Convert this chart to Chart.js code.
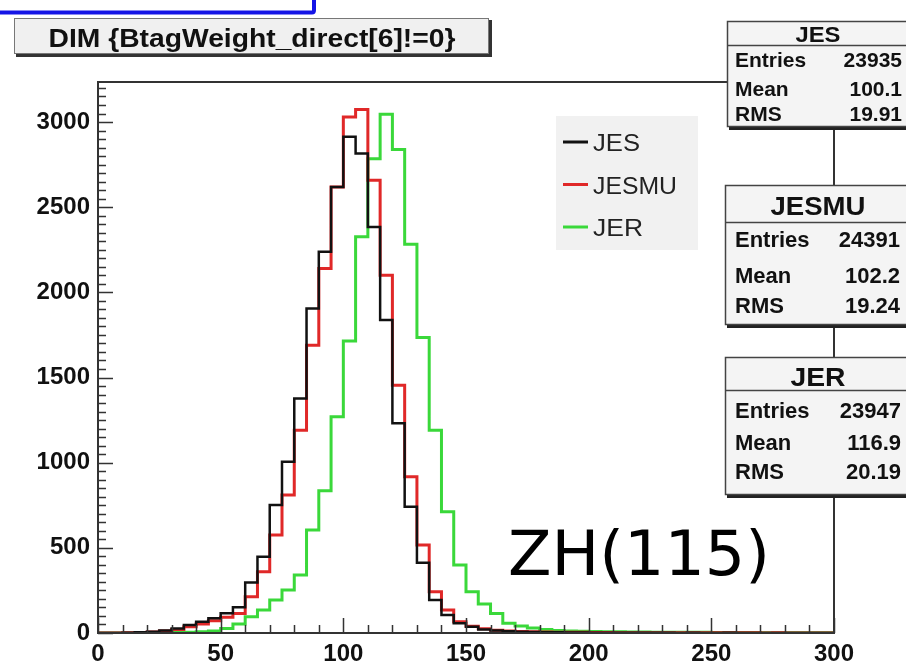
<!DOCTYPE html>
<html>
<head>
<meta charset="utf-8">
<script src="https://cdn.jsdelivr.net/npm/chart.js@4.4.1/dist/chart.umd.min.js"></script>
<style>
  html, body { margin: 0; padding: 0; background: #fff; }
  #c { display: block; }
</style>
</head>
<body>
<canvas id="c" width="906" height="661"></canvas>
<script>
// histogram bins (low edges), width 5
const binLow = [0, 5, 10, 15, 20, 25, 30, 35, 40, 45, 50, 55, 60, 65, 70, 75, 80, 85, 90, 95,
  100, 105, 110, 115, 120, 125, 130, 135, 140, 145, 150, 155, 160, 165, 170, 175, 180, 185, 190, 195,
  200, 205, 210, 215, 220, 225, 230, 235, 240, 245, 250, 255, 260, 265, 270, 275, 280, 285, 290, 295];
const xMax = 300;

const jes = [0, 0, 2, 4, 8, 15, 27, 47, 66, 86, 116, 151, 296, 448, 751, 1005, 1377, 1905, 2238, 2619,
  2913, 2815, 2384, 1837, 1231, 741, 413, 194, 106, 57, 37, 20, 14, 10, 8, 6, 5, 4, 3, 3,
  2, 2, 2, 1, 1, 1, 1, 0, 1, 0, 0, 1, 0, 0, 0, 0, 0, 0, 0, 0];
const jesmu = [0, 0, 1, 3, 6, 12, 20, 37, 53, 72, 92, 115, 213, 360, 575, 810, 1191, 1690, 2140, 2619,
  3030, 3073, 2658, 2101, 1455, 917, 516, 242, 135, 66, 40, 25, 16, 12, 9, 7, 6, 5, 4, 4,
  3, 3, 2, 2, 2, 2, 1, 1, 1, 1, 1, 1, 1, 1, 0, 1, 0, 0, 0, 0];
const jer = [0, 0, 0, 1, 1, 2, 3, 5, 8, 12, 27, 53, 96, 135, 194, 252, 340, 604, 835, 1269,
  1715, 2326, 2785, 3046, 2838, 2283, 1735, 1191, 712, 399, 242, 170, 115, 57, 41, 30, 20, 15, 12, 10,
  9, 8, 7, 6, 6, 5, 5, 4, 4, 4, 3, 3, 3, 3, 2, 2, 2, 2, 2, 2];

const seriesNames = ['JES', 'JESMU', 'JER'];
const statEntries = ['23935', '24391', '23947'];
const statMean = ['100.1', '102.2', '116.9'];
const statRms = ['19.91', '19.24', '20.19'];
const yMax = 3235;
const xTickVals = [0, 50, 100, 150, 200, 250, 300];
const yTickVals = [0, 500, 1000, 1500, 2000, 2500, 3000];
const xMinorStep = 10, yMinorStep = 50;
const titleText = 'DIM {BtagWeight_direct[6]!=0}';
const tagText = 'ZH(115)';

function toSteps(vals) {
  const pts = binLow.map((x, i) => ({ x: x, y: vals[i] }));
  pts.push({ x: xMax, y: vals[vals.length - 1] });
  return pts;
}

function fitText(ctx, str, x, y, font, width, align) {
  ctx.font = font;
  const w = ctx.measureText(str).width;
  ctx.save();
  ctx.translate(x, y);
  ctx.scale(width / w, 1);
  ctx.textAlign = align;
  ctx.textBaseline = 'alphabetic';
  ctx.fillText(str, 0, 0);
  ctx.restore();
}

const bold = s => 'bold ' + s + 'px "Liberation Sans", Arial, sans-serif';
const plain = s => s + 'px "Liberation Sans", Arial, sans-serif';

const rootDecor = {
  id: 'rootDecor',
  beforeDraw(chart) {
    const ctx = chart.ctx;
    ctx.save();
    ctx.fillStyle = '#fff';
    ctx.fillRect(0, 0, chart.width, chart.height);
    ctx.restore();
  },
  afterDatasetsDraw(chart) {
    const ctx = chart.ctx, a = chart.chartArea;
    const xs = chart.scales.x, ys = chart.scales.y;
    ctx.save();
    ctx.strokeStyle = '#333';
    ctx.lineWidth = 1.5;
    // tick marks inside the frame
    ctx.beginPath();
    for (let v = 0; v <= yMax; v += yMinorStep) {
      const py = Math.round(ys.getPixelForValue(v)) + 0.5;
      const len = yTickVals.includes(v) ? 15 : 8;
      ctx.moveTo(a.left, py);
      ctx.lineTo(a.left + len, py);
    }
    for (let v = 0; v <= xMax; v += xMinorStep) {
      const px = Math.round(xs.getPixelForValue(v)) + 0.5;
      const len = xTickVals.includes(v) ? 15 : 8;
      ctx.moveTo(px, a.bottom);
      ctx.lineTo(px, a.bottom - len);
    }
    ctx.stroke();
    ctx.lineWidth = 2;
    ctx.strokeRect(a.left, a.top, a.right - a.left, a.bottom - a.top);
    ctx.restore();
  },
  afterDraw(chart) {
    const ctx = chart.ctx;
    ctx.save();

    // blue selection box corner
    ctx.strokeStyle = '#1414e6';
    ctx.lineWidth = 4;
    ctx.beginPath();
    ctx.moveTo(0, 12.5);
    ctx.lineTo(312, 12.5);
    ctx.quadraticCurveTo(314, 12.5, 314, 10);
    ctx.lineTo(314, -2);
    ctx.stroke();

    // title pave
    ctx.fillStyle = '#333';
    ctx.fillRect(16, 20, 476, 37);
    ctx.fillStyle = '#f0f0f0';
    ctx.fillRect(14, 18, 475, 36);
    ctx.strokeStyle = '#777';
    ctx.lineWidth = 1;
    ctx.strokeRect(14.5, 18.5, 474, 35);
    ctx.fillStyle = '#111';
    fitText(ctx, titleText, 252, 46.5, bold(25), 407, 'center');

    // legend
    ctx.fillStyle = '#f1f1f1';
    ctx.fillRect(556, 116, 142, 134);
    const legColors = ['#111', '#e02828', '#3ad83a'];
    const legY = [142, 184.5, 227];
    const legW = [47, 84, 50];
    for (let i = 0; i < 3; i++) {
      ctx.strokeStyle = legColors[i];
      ctx.lineWidth = 3;
      ctx.beginPath();
      ctx.moveTo(563, legY[i]);
      ctx.lineTo(588, legY[i]);
      ctx.stroke();
      ctx.fillStyle = '#222';
      fitText(ctx, seriesNames[i], 593, legY[i] + 9, plain(24), legW[i], 'left');
    }

    // stats boxes
    const boxes = [
      { y: 21, bottom: 127, div: 45, tBase: 41.5, tFont: 22, tW: 45, rows: [66.5, 95.5, 121], rFont: 21, x: 727, vr: 902 },
      { y: 185, bottom: 325, div: 222, tBase: 215, tFont: 26, tW: 95, rows: [246.5, 283, 313], rFont: 22, x: 725, vr: 900 },
      { y: 357, bottom: 495, div: 390, tBase: 385.5, tFont: 26, tW: 55, rows: [418, 450, 478.5], rFont: 22, x: 725, vr: 901 }
    ];
    boxes.forEach((b, i) => {
      ctx.fillStyle = '#222';
      ctx.fillRect(b.x + 2, b.y + 2, 200, b.bottom - b.y + 1);
      ctx.fillStyle = '#f4f4f4';
      ctx.fillRect(b.x, b.y, 200, b.bottom - b.y);
      ctx.strokeStyle = '#444';
      ctx.lineWidth = 1.5;
      ctx.strokeRect(b.x + 0.5, b.y + 0.5, 200, b.bottom - b.y - 1);
      ctx.beginPath();
      ctx.moveTo(b.x, b.div + 0.5);
      ctx.lineTo(906, b.div + 0.5);
      ctx.stroke();
      ctx.fillStyle = '#111';
      fitText(ctx, seriesNames[i], 818, b.tBase, bold(b.tFont), b.tW, 'center');
      const labels = ['Entries', 'Mean', 'RMS'];
      const vals = [statEntries[i], statMean[i], statRms[i]];
      for (let r = 0; r < 3; r++) {
        ctx.font = bold(b.rFont);
        ctx.textAlign = 'left';
        ctx.fillText(labels[r], 735, b.rows[r]);
        ctx.textAlign = 'right';
        ctx.fillText(vals[r], b.vr, b.rows[r]);
      }
    });

    // process tag
    ctx.fillStyle = '#000';
    fitText(ctx, tagText, 508, 575, '62px "DejaVu Sans", sans-serif', 262, 'left');
    ctx.restore();
  }
};

const axisFont = { family: '"Liberation Sans", Arial, sans-serif', size: 24, weight: 'bold' };

new Chart(document.getElementById('c').getContext('2d'), {
  type: 'line',
  data: {
    datasets: [
      { label: seriesNames[0], data: toSteps(jes), borderColor: '#111', borderWidth: 2.5 },
      { label: seriesNames[1], data: toSteps(jesmu), borderColor: '#e02828', borderWidth: 3 },
      { label: seriesNames[2], data: toSteps(jer), borderColor: '#3ad83a', borderWidth: 3 }
    ]
  },
  options: {
    responsive: false,
    animation: false,
    devicePixelRatio: 1,
    layout: { padding: { top: 82, right: 72, left: 0, bottom: 0 } },
    datasets: { line: { stepped: 'before', pointRadius: 0, fill: false, tension: 0 } },
    plugins: { legend: { display: false }, tooltip: { enabled: false } },
    scales: {
      x: {
        type: 'linear', min: 0, max: xMax,
        grid: { display: false, drawTicks: false },
        border: { display: false },
        ticks: { autoSkip: false, font: axisFont, color: '#111', padding: 7, maxRotation: 0,
          callback: v => String(v) },
        afterBuildTicks: s => { s.ticks = xTickVals.map(v => ({ value: v })); },
        afterFit: s => { s.height = 28; }
      },
      y: {
        min: 0, max: yMax,
        grid: { display: false, drawTicks: false },
        border: { display: false },
        ticks: { autoSkip: false, font: axisFont, color: '#111', padding: 8,
          callback: v => String(v) },
        afterBuildTicks: s => { s.ticks = yTickVals.map(v => ({ value: v })); },
        afterFit: s => { s.width = 98; }
      }
    }
  },
  plugins: [rootDecor]
});
</script>
</body>
</html>
